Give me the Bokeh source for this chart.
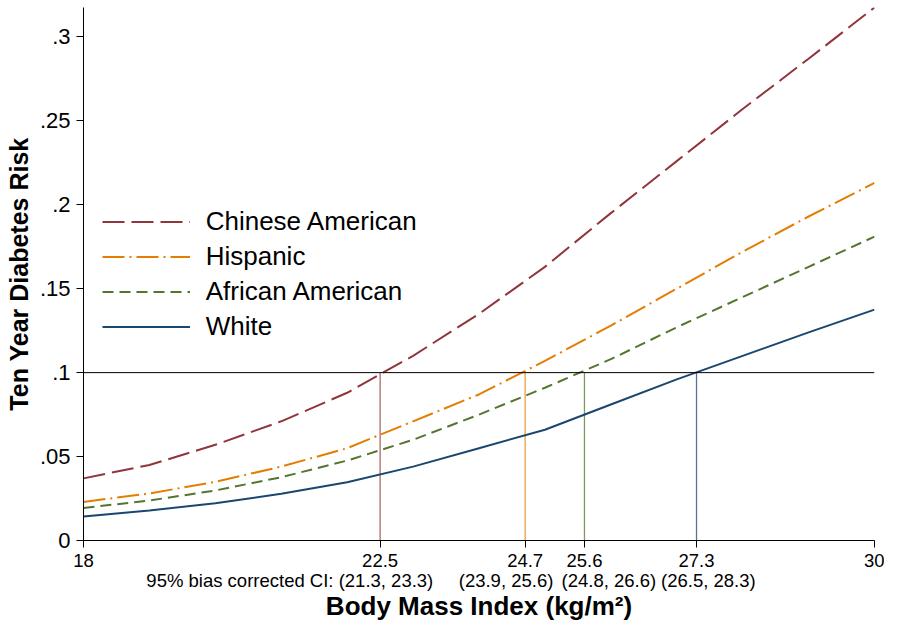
from bokeh.plotting import figure
from bokeh.models import (FixedTicker, LinearAxis, Legend, LegendItem, Span, Range1d)
from bokeh.embed import file_html
from bokeh.resources import INLINE

# ---- data ----
bmi = [18, 19, 20, 21, 22, 23, 24, 25, 26, 27, 28, 29, 30]
chinese_american = [0.037, 0.045, 0.057, 0.071, 0.088, 0.110, 0.135, 0.163, 0.195, 0.226, 0.257, 0.287, 0.3175]
hispanic = [0.023, 0.028, 0.035, 0.044, 0.055, 0.071, 0.087, 0.107, 0.128, 0.150, 0.172, 0.193, 0.213]
african_american = [0.0194, 0.0238, 0.0298, 0.0377, 0.0476, 0.060, 0.075, 0.091, 0.108, 0.127, 0.145, 0.163, 0.181]
white = [0.0143, 0.0179, 0.0222, 0.0278, 0.0347, 0.044, 0.055, 0.066, 0.081, 0.096, 0.110, 0.124, 0.1375]

risk_threshold = 0.1
cutoff_bmi = [22.5, 24.7, 25.6, 27.3]  # Chinese, Hispanic, African American, White
ci_labels = ["95% bias corrected CI: (21.3, 23.3)", "(23.9, 25.6)", "(24.8, 26.6)", "(26.5, 28.3)"]
ci_label_x = [21.13, 24.41, 25.97, 27.48]

x_ticks = [18, 22.5, 24.7, 25.6, 27.3, 30]
x_tick_labels = ["18", "22.5", "24.7", "25.6", "27.3", "30"]
y_ticks = [0, 0.05, 0.1, 0.15, 0.2, 0.25, 0.3]
y_tick_labels = ["0", ".05", ".1", ".15", ".2", ".25", ".3"]

series_names = ["Chinese American", "Hispanic", "African American", "White"]
series_vals = [chinese_american, hispanic, african_american, white]
colors = ["#90353B", "#E37E00", "#55752F", "#1A476F"]
dashes = ["22 7", "22 5 2 5", "11 6", "solid"]

FONT = "Liberation Sans"

p = figure(width=884, height=623, output_backend="svg", toolbar_location=None,
           x_range=Range1d(18, 30), y_range=Range1d(0, 0.3175),
           min_border_left=83, min_border_right=10, min_border_top=7, min_border_bottom=83)
p.grid.visible = False
p.outline_line_color = None
p.background_fill_color = "white"
p.border_fill_color = "white"

# threshold line
p.add_layout(Span(location=risk_threshold, dimension="width", line_color="black", line_width=1))

# vertical cutoff lines
p.segment(x0=cutoff_bmi, y0=[0] * 4, x1=cutoff_bmi, y1=[risk_threshold] * 4,
          line_color=colors, line_width=1.3, line_alpha=0.75)

renderers = []
for name, vals, c, d in zip(series_names, series_vals, colors, dashes):
    r = p.line(bmi, vals, line_color=c, line_width=2, line_dash=d)
    renderers.append(r)

legend = Legend(items=[LegendItem(label=n, renderers=[r]) for n, r in zip(series_names, renderers)],
                location=(18.7, 195.7), glyph_width=88, glyph_height=35, label_height=35,
                label_standoff=16, spacing=0, padding=0, margin=0,
                border_line_color=None, background_fill_alpha=0,
                label_text_font_size="26px", label_text_font=FONT, label_text_color="black")
p.add_layout(legend)

# x axis
xa = p.xaxis[0]
xa.ticker = FixedTicker(ticks=x_ticks)
xa.major_label_overrides = {t: l for t, l in zip(x_ticks, x_tick_labels)}
xa.minor_tick_line_color = None
xa.major_tick_out = 7
xa.major_tick_in = 0
xa.major_label_standoff = 6
xa.major_label_text_font = FONT
xa.major_label_text_font_size = "18.5px"
xa.major_label_text_color = "black"
xa.axis_line_color = "black"
xa.major_tick_line_color = "black"

# CI row axis
ci_axis = LinearAxis(ticker=FixedTicker(ticks=ci_label_x),
                     major_label_overrides={t: l for t, l in zip(ci_label_x, ci_labels)})
ci_axis.axis_line_color = None
ci_axis.major_tick_line_color = None
ci_axis.minor_tick_line_color = None
ci_axis.major_tick_out = 0
ci_axis.major_label_standoff = 0
ci_axis.major_label_text_font = FONT
ci_axis.major_label_text_font_size = "18.5px"
ci_axis.major_label_text_color = "black"
ci_axis.axis_label = "Body Mass Index (kg/m²)"
ci_axis.axis_label_text_font = FONT
ci_axis.axis_label_text_font_style = "bold"
ci_axis.axis_label_text_font_size = "26px"
ci_axis.axis_label_text_color = "black"
ci_axis.axis_label_standoff = -3
p.add_layout(ci_axis, "below")

# y axis
ya = p.yaxis[0]
ya.ticker = FixedTicker(ticks=y_ticks)
ya.major_label_overrides = {t: l for t, l in zip(y_ticks, y_tick_labels)}
ya.minor_tick_line_color = None
ya.major_tick_out = 7
ya.major_tick_in = 0
ya.major_label_standoff = 6
ya.major_label_text_font = FONT
ya.major_label_text_font_size = "22px"
ya.major_label_text_color = "black"
ya.axis_line_color = "black"
ya.major_tick_line_color = "black"
ya.axis_label = "Ten Year Diabetes Risk"
ya.axis_label_text_font = FONT
ya.axis_label_text_font_style = "bold"
ya.axis_label_text_font_size = "25px"
ya.axis_label_text_color = "black"
ya.axis_label_standoff = 4

open("out.html", "w").write(file_html(p, INLINE))
